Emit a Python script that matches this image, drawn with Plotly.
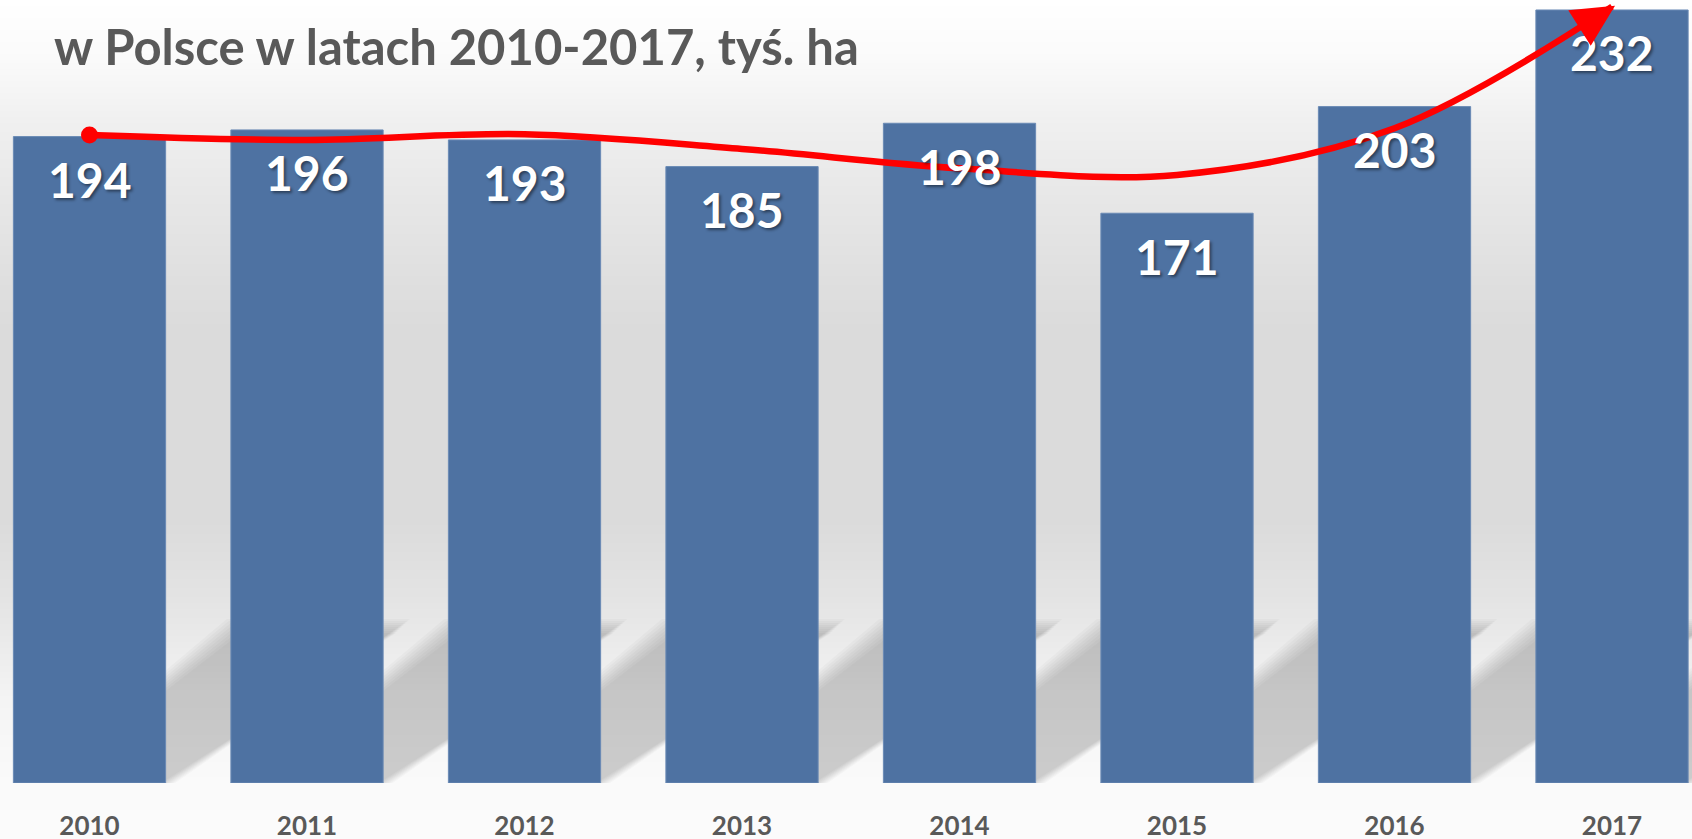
import plotly.graph_objects as go

# data
years = [2010, 2011, 2012, 2013, 2014, 2015, 2016, 2017]
area = [194, 196, 193, 185, 198, 171, 203, 232]
trend = [194.5, 193.0, 194.7, 190.3, 184.5, 182.5, 196.5, 233.0]  # red hand-drawn trend arrow
title_text = "w Polsce w latach 2010-2017, tyś. ha"

W, H = 1692, 839
PLOT_BOTTOM = 783  # px from top where the plot area ends
BAR_BLUE = "#4e72a2"
GREY_TXT = "#595959"
RED = "#ff0000"
FONT = "Lato"

shapes = []

# soft grey background gradient, drawn as thin stripes
bg_stops = [(0, 255), (60, 250), (120, 240), (200, 231), (280, 223), (330, 219),
            (520, 219), (600, 228), (640, 234), (700, 244), (783, 250), (839, 251)]


def grey_at(py):
    for (p0, g0), (p1, g1) in zip(bg_stops, bg_stops[1:]):
        if p0 <= py <= p1:
            return round(g0 + (g1 - g0) * (py - p0) / (p1 - p0))
    return bg_stops[-1][1]


step = 3
for py in range(0, H, step):
    g = grey_at(py + step / 2)
    shapes.append(dict(type="rect", xref="paper", yref="paper", x0=0, x1=1,
                       y0=(PLOT_BOTTOM - py - step - 0.6) / PLOT_BOTTOM,
                       y1=(PLOT_BOTTOM - py) / PLOT_BOTTOM,
                       fillcolor=f"rgb({g},{g},{g})", line_width=0, layer="below"))

# diagonal floor shadows behind each bar (many thin layers for a soft edge)
px_x = 217.5   # px per year
px_y = 3.332   # px per unit
for yr in years:
    for grow in range(14, -1, -2):
        gx = grow / px_x
        gy = grow / px_y
        path = (f"M {yr - 0.2 - gx},0 L {yr + 0.33 + gx},0 "
                f"L {yr + 1.41 + gx},{45 + gy} L {yr + 0.695 - gx},{45 + gy} Z")
        shapes.append(dict(type="path", xref="x", yref="y", path=path,
                           fillcolor="rgba(0,0,0,0.024)", line_width=0, layer="below"))

fig = go.Figure()

fig.add_trace(go.Bar(
    x=years, y=area, width=0.7,
    marker=dict(color=BAR_BLUE, line=dict(color="#6a8ab5", width=1)),
    hoverinfo="skip",
))

fig.add_trace(go.Scatter(
    x=years, y=trend, mode="lines",
    line=dict(color=RED, width=6.5, shape="spline", smoothing=1.0),
    hoverinfo="skip",
))
fig.add_trace(go.Scatter(
    x=years[:1], y=trend[:1], mode="markers",
    marker=dict(color=RED, size=17),
    hoverinfo="skip",
))

annotations = []
for yr, v in zip(years, area):
    annotations.append(dict(
        x=yr, y=v, text=f"<b>{v}</b>", showarrow=False, yshift=-43,
        font=dict(family=FONT, size=48, color="white",
                  shadow="2px 2px 3px rgba(0,0,0,0.45)"),
    ))

# arrow head at the end of the trend line
annotations.append(dict(
    x=years[-1], y=trend[-1], text="", showarrow=True,
    ax=-30, ay=19, axref="pixel", ayref="pixel",
    arrowhead=2, arrowsize=1.4, arrowwidth=6, arrowcolor=RED,
    xshift=3, yshift=1,
))

fig.update_layout(
    width=W, height=H,
    margin=dict(l=0, r=0, t=0, b=H - PLOT_BOTTOM, autoexpand=False),
    paper_bgcolor="white", plot_bgcolor="rgba(0,0,0,0)",
    showlegend=False,
    shapes=shapes,
    annotations=annotations,
    title=dict(text=f"<b>{title_text}</b>", x=54 / W, xanchor="left",
               xref="container", yref="container", y=1 - 48 / H, yanchor="middle",
               font=dict(family=FONT, size=49, color=GREY_TXT)),
    xaxis=dict(range=[2010 - 89.5 / px_x, 2010 + (W - 89.5) / px_x],
               tickvals=years, ticktext=[str(y) for y in years],
               tickfont=dict(family=FONT, size=26, color=GREY_TXT, weight="bold"),
               showgrid=False, zeroline=False, showline=False, ticks="",
               ticklabelstandoff=25),
    yaxis=dict(range=[0, PLOT_BOTTOM / px_y], visible=False,
               showgrid=False, zeroline=False),
)

# page body has an 8px default margin; drop it so the figure fills the window
fig.write_html("out.html", config={"displayModeBar": False},
               post_script="document.body.style.margin='0';")
